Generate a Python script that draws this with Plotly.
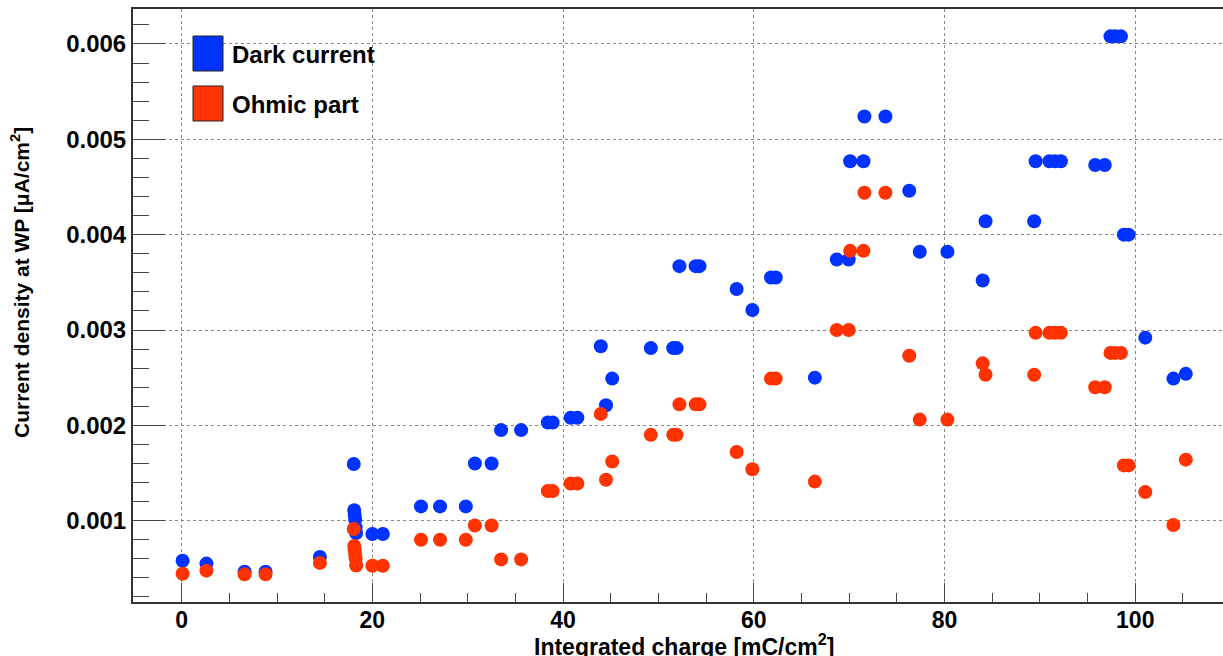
import plotly.graph_objects as go

# ---- data ----
charge = [0.1, 2.6, 6.6, 8.8, 14.5, 18.05, 18.1, 18.15, 18.2, 18.25, 18.3, 20.0, 21.1,
          25.1, 27.1, 29.8, 30.75, 32.5, 33.5, 35.6, 38.4, 38.9, 40.8, 41.5, 43.95,
          44.5, 45.15, 49.2, 51.55, 51.9, 52.2, 53.9, 54.3, 58.2, 59.85, 61.8, 62.3,
          66.4, 68.7, 69.95, 70.1, 71.5, 71.6, 73.8, 76.3, 77.4, 80.3, 84.0, 84.3,
          89.4, 89.55, 91.0, 91.6, 92.2, 95.8, 96.8, 97.4, 97.9, 98.5, 98.8, 99.3,
          101.05, 104.0, 105.3]

dark_current = [0.00058, 0.00055, 0.000465, 0.000465, 0.00062, 0.001594, 0.00111, 0.00106,
                0.00101, 0.00093, 0.00087, 0.00086, 0.00086, 0.00115, 0.00115, 0.00115,
                0.0016, 0.0016, 0.00195, 0.00195, 0.00203, 0.00203, 0.00208, 0.00208,
                0.00283, 0.00221, 0.00249, 0.00281, 0.00281, 0.00281, 0.00367, 0.00367,
                0.00367, 0.00343, 0.00321, 0.00355, 0.00355, 0.0025, 0.00374, 0.00374,
                0.00477, 0.00477, 0.00524, 0.00524, 0.00446, 0.00382, 0.00382, 0.00352,
                0.00414, 0.00414, 0.00477, 0.00477, 0.00477, 0.00477, 0.00473, 0.00473,
                0.00608, 0.00608, 0.00608, 0.0040, 0.0040, 0.00292, 0.00249, 0.00254]

ohmic_part = [0.000444, 0.000476, 0.000437, 0.000437, 0.000557, 0.000913, 0.000735, 0.00069,
              0.00064, 0.0006, 0.00053, 0.000528, 0.000528, 0.0008, 0.0008, 0.0008,
              0.00095, 0.00095, 0.000594, 0.000594, 0.00131, 0.00131, 0.00139, 0.00139,
              0.00212, 0.00143, 0.00162, 0.0019, 0.0019, 0.0019, 0.00222, 0.00222,
              0.00222, 0.00172, 0.00154, 0.00249, 0.00249, 0.00141, 0.0030, 0.0030,
              0.00383, 0.00383, 0.00444, 0.00444, 0.00273, 0.00206, 0.00206, 0.00265,
              0.00253, 0.00253, 0.00297, 0.00297, 0.00297, 0.00297, 0.0024, 0.0024,
              0.00276, 0.00276, 0.00276, 0.00158, 0.00158, 0.0013, 0.000955, 0.00164]

series_names = ["Dark current", "Ohmic part"]
series_colors = ["#0033ff", "#ff3300"]

FONT = "Liberation Sans, Arial, Helvetica, sans-serif"
W, H = 1223, 656
L, R, T, B = 133, 0, 9, 54
PW, PH = W - L - R, H - T - B


def px_x(px):
    return (px - L) / PW


def px_y(py):
    return (H - B - py) / PH


fig = go.Figure()
for name, vals, col in zip(series_names, [dark_current, ohmic_part], series_colors):
    fig.add_trace(go.Scatter(
        x=charge, y=vals, mode="markers", name=name, showlegend=False,
        marker=dict(color=col, size=14, line=dict(width=0)),
    ))

axis_common = dict(
    ticks="inside", tickwidth=1, tickcolor="#444",
    showgrid=True, gridcolor="#888", griddash="dot", gridwidth=1,
    showline=True, linecolor="#333", linewidth=2, zeroline=False,
)

fig.update_xaxes(
    range=[-5.1, 109.2], tick0=0, dtick=20, ticklen=19, mirror=True,
    ticklabelstandoff=-4,
    tickfont=dict(family=FONT, size=23, color="black", weight="bold"),
    minor=dict(dtick=5, ticks="inside", ticklen=9, tickcolor="#444", tickwidth=1, showgrid=False),
    **axis_common,
)
fig.update_yaxes(
    range=[0.000147, 0.006367], tick0=0, dtick=0.001, ticklen=32, tickformat=".3f",
    tickfont=dict(family=FONT, size=24, color="black", weight="bold"),
    minor=dict(dtick=0.0002, ticks="inside", ticklen=16, tickcolor="#444", tickwidth=1, showgrid=False),
    **axis_common,
)

annotations = [
    dict(text="Integrated charge [mC/cm<sup>2</sup>]", xref="paper", yref="paper",
         x=px_x(684), y=px_y(645), xanchor="center", yanchor="middle", showarrow=False,
         font=dict(family=FONT, size=23, color="black", weight="bold")),
    dict(text="Current density at WP [\u03bcA/cm<sup>2</sup>]", xref="paper", yref="paper",
         x=px_x(20), y=px_y(283), xanchor="center", yanchor="middle", showarrow=False,
         textangle=-90, font=dict(family=FONT, size=21, color="black", weight="bold")),
]

shapes = []
legend_boxes = [(36, 71), (86, 121)]
for (y0, y1), name, col in zip(legend_boxes, series_names, series_colors):
    shapes.append(dict(type="rect", xref="paper", yref="paper",
                       x0=px_x(193), x1=px_x(223), y0=px_y(y1), y1=px_y(y0),
                       fillcolor=col, line=dict(color="#222", width=1)))
    annotations.append(dict(text=name, xref="paper", yref="paper",
                            x=px_x(230), y=px_y((y0 + y1) / 2 + 1), xanchor="left", yanchor="middle",
                            showarrow=False,
                            font=dict(family=FONT, size=24, color="black", weight="bold")))

fig.update_layout(
    width=W, height=H, margin=dict(l=L, r=R, t=T, b=B),
    plot_bgcolor="white", paper_bgcolor="white",
    annotations=annotations, shapes=shapes,
)

fig.write_html("out.html")
